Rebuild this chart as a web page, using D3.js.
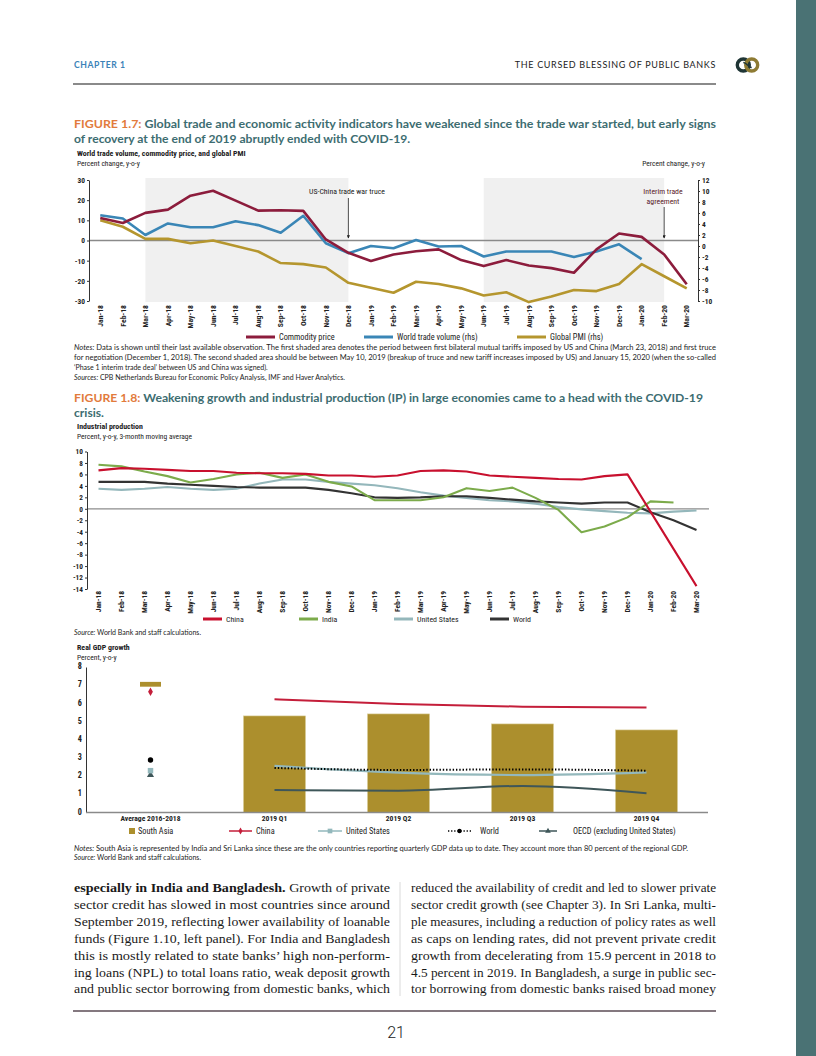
<!DOCTYPE html>
<html><head><meta charset="utf-8">
<script src="https://cdn.jsdelivr.net/npm/d3@7"></script>
<style>
body{margin:0;background:#fff}
svg{display:block}
</style></head><body>
<svg id="page" width="816" height="1056"></svg>
<script>
// ---------------- DATA ----------------
const months = ["Jan-18","Feb-18","Mar-18","Apr-18","May-18","Jun-18","Jul-18","Aug-18","Sep-18","Oct-18","Nov-18","Dec-18",
  "Jan-19","Feb-19","Mar-19","Apr-19","May-19","Jun-19","Jul-19","Aug-19","Sep-19","Oct-19","Nov-19","Dec-19","Jan-20","Feb-20","Mar-20"];
const commodityPrice = [11.2,8.7,13.7,15.3,22.2,24.7,19.8,14.8,15.0,14.7,0.5,-6.1,-10.2,-6.9,-5.3,-4.4,-9.7,-12.7,-9.7,-12.4,-13.7,-16.0,-4.4,3.5,1.8,-6.9,-21.7];
const worldTradeVolume = [5.6,5.0,2.0,4.1,3.4,3.4,4.5,3.8,2.4,5.5,0.5,-1.3,0.0,-0.4,1.1,-0.1,0.0,-1.9,-1.0,-1.0,-1.0,-2.0,-1.0,0.3,-2.4,null,null];
const globalPMI = [4.7,3.5,1.3,1.3,0.5,1.0,0.0,-1.0,-3.1,-3.3,-3.9,-6.7,-7.6,-8.5,-6.5,-6.9,-7.7,-9.0,-8.4,-10.2,-9.2,-8.0,-8.2,-6.9,-3.3,-5.5,-7.7];
const leftTicks1 = [-30,-20,-10,0,10,20,30];
const rightTicks1 = [-10,-8,-6,-4,-2,0,2,4,6,8,10,12];
const shadeStart = ["Mar-18","Jun-19"];
const shadeEnd = ["Dec-18","Feb-20"];

const ipChina = [6.7,7.1,7.0,6.8,6.6,6.6,6.3,6.2,6.2,6.1,5.8,5.8,5.6,5.8,6.6,6.7,6.5,5.8,5.6,5.4,5.2,5.1,5.7,6.0,-0.5,-7.0,-13.5];
const ipIndia = [7.7,7.4,6.5,5.7,4.6,5.2,6.0,6.3,5.4,6.0,4.7,3.9,1.5,1.5,1.5,2.0,3.6,3.1,3.7,1.9,-0.2,-4.1,-3.1,-1.5,1.3,1.1,null];
const ipUS = [3.5,3.3,3.5,3.8,3.5,3.3,3.5,4.4,5.1,5.1,4.7,4.4,4.1,3.6,2.9,2.3,1.9,1.5,1.3,0.9,0.3,-0.1,-0.4,-0.7,-0.8,-0.5,-0.3];
const ipWorld = [4.7,4.7,4.7,4.4,4.2,4.0,3.8,3.7,3.7,3.7,3.3,2.7,2.0,1.9,2.0,2.2,2.2,1.9,1.6,1.3,1.1,0.9,1.1,1.1,-0.6,-2.0,-3.7];
const ipTicks = [-14,-12,-10,-8,-6,-4,-2,0,2,4,6,8,10];

const gdpCategories = ["Average 2016-2018","2019 Q1","2019 Q2","2019 Q3","2019 Q4"];
const gdpSouthAsia = [7.05,5.31,5.42,4.87,4.54];
const gdpChina = [6.64,6.22,5.96,5.82,5.78];
const gdpUS = [2.30,2.56,2.19,2.06,2.21];
const gdpWorld = [2.89,2.45,2.34,2.37,2.30];
const gdpOECD = [2.06,1.24,1.20,1.46,1.06];
const gdpTicks = [0,1,2,3,4,5,6,7,8];

// ---------------- STYLE ----------------
const COND = '"Roboto Condensed","DejaVu Sans Condensed",sans-serif';
const SANS = 'Lato,"Open Sans",sans-serif';
const SERIF = '"Liberation Serif","DejaVu Serif",serif';
const C = {commodity:"#8c1c3c", trade:"#3a86b6", pmi:"#b5962e",
  china:"#c8102e", india:"#7cab4b", us:"#94b7bb", world:"#333333",
  gdpBar:"#ac8f2d", gdpChina:"#c41e3a", gdpUS:"#93b8bc", gdpOECD:"#3e5659",
  title:"#3d6d71", fig:"#e27b3c"};
const fmt = d => String(d);

const svg = d3.select("#page");

// ---------------- PAGE FURNITURE ----------------
svg.append("rect").attr("x",796).attr("y",0).attr("width",20).attr("height",1056).attr("fill","#4a7274");
svg.append("text").attr("x",74).attr("y",67.5).text("CHAPTER 1")
  .attr("font-family",SANS).attr("font-weight",700).attr("font-size",8.6).attr("letter-spacing",0.6).attr("fill","#3b82b8");
svg.append("text").attr("x",716).attr("y",67.5).attr("text-anchor","end").text("THE CURSED BLESSING OF PUBLIC BANKS")
  .attr("font-family",SANS).attr("font-size",9).attr("letter-spacing",0.66).attr("fill","#222");
svg.append("line").attr("x1",73).attr("x2",716).attr("y1",84).attr("y2",84).attr("stroke","#8a8a8a").attr("stroke-width",2);
// logo
const logo = svg.append("g").attr("transform","translate(747.5,65)");
logo.append("circle").attr("cx",-4.2).attr("r",6).attr("fill","none").attr("stroke","#1f3535").attr("stroke-width",3.4);
logo.append("circle").attr("cx",4.2).attr("r",6).attr("fill","none").attr("stroke","#8e7b33").attr("stroke-width",3.4);
logo.append("path").attr("d","M-4.2,-2.5 C-1,-2.5 1,2.5 4.2,2.5").attr("fill","none").attr("stroke","#1f3535").attr("stroke-width",1.6);

// figure titles
function figTitle(y, label, rest, len){
  const t = svg.append("text").attr("x",74).attr("y",y).attr("font-family",SANS).attr("font-weight",700).attr("font-size",12.1);
  if(len) t.attr("textLength",len).attr("lengthAdjust","spacingAndGlyphs");
  if(label) t.append("tspan").attr("fill",C.fig).text(label);
  t.append("tspan").attr("fill",C.title).text(rest);
}
figTitle(128,"FIGURE 1.7:"," Global trade and economic activity indicators have weakened since the trade war started, but early signs",642);
figTitle(143,null,"of recovery at the end of 2019 abruptly ended with COVID-19.");
figTitle(402,"FIGURE 1.8:"," Weakening growth and industrial production (IP) in large economies came to a head with the COVID-19",629);
figTitle(417,null,"crisis.");

function ctext(x,y,txt,opts={}){
  return svg.append("text").attr("x",x).attr("y",y).text(txt)
    .attr("font-family",COND).attr("font-size",opts.size||7.5).attr("font-weight",opts.bold?700:400)
    .attr("fill",opts.fill||"#222").attr("text-anchor",opts.anchor||"start");
}
function styleAxis(g,size,bold=true){
  g.selectAll("text").attr("font-family",COND).attr("font-size",size).attr("font-weight",bold?700:400).attr("fill","#222");
  g.selectAll("path.domain").attr("stroke","#333");
  g.selectAll(".tick line").attr("stroke","#333");
}
function monthAxis(g,x,y,size){
  const a = g.append("g").attr("transform",`translate(0,${y})`).call(d3.axisBottom(x).tickSize(0));
  a.select("path.domain").remove();
  a.selectAll("text").attr("x",-3).attr("y",0).attr("dy","0.35em").attr("transform","rotate(-90)").style("text-anchor","end");
  styleAxis(a,size);
  return a;
}

// ---------------- FIGURE 1.7 ----------------
ctext(77,156,"World trade volume, commodity price, and global PMI",{bold:true,size:7.9});
ctext(77,165.5,"Percent change, y-o-y",{size:7.5});
ctext(705,165.5,"Percent change, y-o-y",{size:7.5,anchor:"end"});

const x1 = d3.scaleBand().domain(months).range([89,698]);
const cx1 = m => x1(m)+x1.bandwidth()/2;
const yL1 = d3.scaleLinear().domain([-30,30]).range([301,180]);
const yR1 = d3.scaleLinear().domain([-10,12]).range([301,180]);
const g1 = svg.append("g");
shadeStart.forEach((s,i)=>{
  g1.append("rect").attr("x",cx1(s)).attr("width",cx1(shadeEnd[i])-cx1(s)).attr("y",178).attr("height",124).attr("fill","#f0f0f0");
});
g1.append("line").attr("x1",89).attr("x2",698).attr("y1",yL1(0)).attr("y2",yL1(0)).attr("stroke","#8a8a8a").attr("stroke-width",1.6);

const axL1 = g1.append("g").attr("transform","translate(89,0)")
  .call(d3.axisLeft(yL1).tickValues(leftTicks1).tickFormat(fmt).tickSize(2).tickSizeOuter(0).tickPadding(2));
styleAxis(axL1,7.4);
const axR1 = g1.append("g").attr("transform","translate(698,0)")
  .call(d3.axisRight(yR1).tickValues(rightTicks1).tickFormat(fmt).tickSize(2).tickSizeOuter(0).tickPadding(2));
styleAxis(axR1,7.4);
monthAxis(g1,x1,302,7.7);

const line1L = d3.line().defined(d=>d!=null).x((d,i)=>cx1(months[i])).y(d=>yL1(d));
const line1R = d3.line().defined(d=>d!=null).x((d,i)=>cx1(months[i])).y(d=>yR1(d));
g1.append("path").attr("d",line1R(globalPMI)).attr("fill","none").attr("stroke",C.pmi).attr("stroke-width",2.6).attr("stroke-linejoin","round");
g1.append("path").attr("d",line1R(worldTradeVolume)).attr("fill","none").attr("stroke",C.trade).attr("stroke-width",2.6).attr("stroke-linejoin","round");
g1.append("path").attr("d",line1L(commodityPrice)).attr("fill","none").attr("stroke",C.commodity).attr("stroke-width",2.6).attr("stroke-linejoin","round");

// annotations
svg.append("defs").append("marker").attr("id","arr").attr("viewBox","0 0 6 6").attr("refX",5).attr("refY",3)
  .attr("markerWidth",4).attr("markerHeight",4).attr("orient","auto")
  .append("path").attr("d","M0,0 L6,3 L0,6 z").attr("fill","#222");
ctext(347,194,"US-China trade war truce",{size:7.8,anchor:"middle"});
g1.append("line").attr("x1",cx1("Dec-18")).attr("x2",cx1("Dec-18")).attr("y1",198).attr("y2",238).attr("stroke","#222").attr("stroke-width",0.8).attr("marker-end","url(#arr)");
ctext(663,194,"Interim trade",{size:7.8,anchor:"middle",fill:"#5a1a28"});
ctext(663,204,"agreement",{size:7.8,anchor:"middle",fill:"#5a1a28"});
g1.append("line").attr("x1",cx1("Feb-20")).attr("x2",cx1("Feb-20")).attr("y1",207).attr("y2",238).attr("stroke","#222").attr("stroke-width",0.8).attr("marker-end","url(#arr)");

// legend 1.7
[["Commodity price",C.commodity,246],["World trade volume (rhs)",C.trade,364],["Global PMI (rhs)",C.pmi,517]].forEach(([t,c,x])=>{
  svg.append("line").attr("x1",x).attr("x2",x+29).attr("y1",337).attr("y2",337).attr("stroke",c).attr("stroke-width",3);
  ctext(x+33,340,t,{size:8.3});
});
// notes
function note(y,parts,len){
  const t = svg.append("text").attr("x",74).attr("y",y).attr("font-family",SANS).attr("font-size",7).attr("fill","#222");
  if(len) t.attr("textLength",len).attr("lengthAdjust","spacingAndGlyphs");
  parts.forEach(p=>{ const s=t.append("tspan").text(p[0]); if(p[1]) s.attr("font-style","italic"); });
}
note(350,[["Notes:",1],[" Data is shown until their last available observation. The first shaded area denotes the period between first bilateral mutual tariffs imposed by US and China (March 23, 2018) and first truce"]],642);
note(360,[["for negotiation (December 1, 2018). The second shaded area should be between May 10, 2019 (breakup of truce and new tariff increases imposed by US) and January 15, 2020 (when the so-called"]],642);
note(370,[["\u2018Phase 1 interim trade deal\u2019 between US and China was signed)."]]);
note(380,[["Sources:",1],[" CPB Netherlands Bureau for Economic Policy Analysis, IMF and Haver Analytics."]]);

// ---------------- FIGURE 1.8 IP ----------------
ctext(77,428.5,"Industrial production",{bold:true,size:7.9});
ctext(77,439,"Percent, y-o-y, 3-month moving average",{size:7.5});
const x2 = d3.scaleBand().domain(months).range([87,708]);
const cx2 = m => x2(m)+x2.bandwidth()/2;
const y2 = d3.scaleLinear().domain([-14,10]).range([589,451.5]);
const g2 = svg.append("g");
g2.append("line").attr("x1",87).attr("x2",709).attr("y1",y2(0)).attr("y2",y2(0)).attr("stroke","#8c8c8c").attr("stroke-width",1.3);
const axL2 = g2.append("g").attr("transform","translate(87,0)")
  .call(d3.axisLeft(y2).tickValues(ipTicks).tickFormat(fmt).tickSize(2).tickSizeOuter(0).tickPadding(2));
styleAxis(axL2,7.3);
monthAxis(g2,x2,588,7.5);
const line2 = d3.line().defined(d=>d!=null).x((d,i)=>cx2(months[i])).y(d=>y2(d));
[[ipUS,C.us],[ipWorld,C.world],[ipIndia,C.india],[ipChina,C.china]].forEach(([d,c])=>{
  g2.append("path").attr("d",line2(d)).attr("fill","none").attr("stroke",c).attr("stroke-width",2.1).attr("stroke-linejoin","round");
});
[["China",C.china,203],["India",C.india,299],["United States",C.us,394],["World",C.world,490]].forEach(([t,c,x])=>{
  svg.append("line").attr("x1",x).attr("x2",x+19).attr("y1",619).attr("y2",619).attr("stroke",c).attr("stroke-width",3);
  ctext(x+23,622,t,{size:7.9});
});
note(635,[["Source:",1],[" World Bank and staff calculations."]]);

// ---------------- GDP ----------------
ctext(77,649.5,"Real GDP growth",{bold:true,size:7.9});
ctext(77,660,"Percent, y-o-y",{size:7.5});
const x3 = d3.scaleBand().domain(gdpCategories).range([88.5,708.5]).paddingInner(0.5).paddingOuter(0.25);
const cx3 = c => x3(c)+x3.bandwidth()/2;
const y3 = d3.scaleLinear().domain([0,8]).range([812.5,667]);
const g3 = svg.append("g");
gdpCategories.forEach((c,i)=>{
  if(i===0){
    g3.append("rect").attr("x",cx3(c)-10.5).attr("width",21).attr("y",y3(gdpSouthAsia[i])-2.4).attr("height",4.8).attr("fill",C.gdpBar);
  } else {
    g3.append("rect").attr("x",x3(c)).attr("width",x3.bandwidth()).attr("y",y3(gdpSouthAsia[i])).attr("height",y3(0)-y3(gdpSouthAsia[i]))
      .attr("fill",C.gdpBar).attr("stroke","#d9cc98").attr("stroke-width",0.6);
  }
});
const axL3 = g3.append("g").attr("transform","translate(86,0)")
  .call(d3.axisLeft(y3).tickValues(gdpTicks).tickFormat(fmt).tickSize(0).tickSizeOuter(0).tickPadding(4));
styleAxis(axL3,8.2);
axL3.selectAll("text").attr("dy","0.2em");
g3.append("line").attr("x1",86).attr("x2",708).attr("y1",y3(0)).attr("y2",y3(0)).attr("stroke","#8a8a8a").attr("stroke-width",1.6);
const axB3 = g3.append("g").attr("transform",`translate(0,${y3(0)})`).call(d3.axisBottom(x3).tickSize(0).tickPadding(3));
axB3.select("path.domain").remove();
styleAxis(axB3,7.6);

const q = gdpCategories.slice(1);
const line3 = d3.line().x((d,i)=>cx3(q[i])).y(d=>y3(d)).curve(d3.curveMonotoneX);
g3.append("path").attr("d",line3(gdpOECD.slice(1))).attr("fill","none").attr("stroke",C.gdpOECD).attr("stroke-width",2);
g3.append("path").attr("d",line3(gdpUS.slice(1))).attr("fill","none").attr("stroke",C.gdpUS).attr("stroke-width",2.2);
g3.append("path").attr("d",line3(gdpWorld.slice(1))).attr("fill","none").attr("stroke","#000").attr("stroke-width",2)
  .attr("stroke-dasharray","1.4,1.9");
g3.append("path").attr("d",line3(gdpChina.slice(1))).attr("fill","none").attr("stroke",C.gdpChina).attr("stroke-width",2);

const a0 = cx3(gdpCategories[0]);
const sym = (type,size)=>d3.symbol().type(type).size(size)();
g3.append("path").attr("d",sym(d3.symbolTriangle,22)).attr("transform",`translate(${a0},${y3(gdpOECD[0])})`).attr("fill",C.gdpOECD);
g3.append("path").attr("d",sym(d3.symbolSquare,30)).attr("transform",`translate(${a0},${y3(gdpUS[0])})`).attr("fill",C.gdpUS);
g3.append("circle").attr("cx",a0).attr("cy",y3(gdpWorld[0])).attr("r",2.7).attr("fill","#000");
g3.append("path").attr("d",sym(d3.symbolDiamond,20)).attr("transform",`translate(${a0},${y3(gdpChina[0])})`).attr("fill",C.gdpChina);

// legend GDP
const ly = 831;
svg.append("rect").attr("x",129).attr("y",ly-3).attr("width",6).attr("height",6).attr("fill",C.gdpBar);
ctext(138,ly+3,"South Asia",{size:8.3});
svg.append("line").attr("x1",229).attr("x2",252).attr("y1",ly).attr("y2",ly).attr("stroke",C.gdpChina).attr("stroke-width",1.5);
svg.append("path").attr("d",sym(d3.symbolDiamond,14)).attr("transform",`translate(240.5,${ly})`).attr("fill",C.gdpChina);
ctext(256,ly+3,"China",{size:8.3});
svg.append("line").attr("x1",318).attr("x2",342).attr("y1",ly).attr("y2",ly).attr("stroke",C.gdpUS).attr("stroke-width",1.5);
svg.append("path").attr("d",sym(d3.symbolSquare,22)).attr("transform",`translate(330,${ly})`).attr("fill",C.gdpUS);
ctext(346,ly+3,"United States",{size:8.3});
svg.append("line").attr("x1",448).attr("x2",471).attr("y1",ly).attr("y2",ly).attr("stroke","#000").attr("stroke-width",1.5).attr("stroke-dasharray","1.3,1.8");
svg.append("circle").attr("cx",459.5).attr("cy",ly).attr("r",2.2).attr("fill","#000");
ctext(480,ly+3,"World",{size:8.3});
svg.append("line").attr("x1",539).attr("x2",557).attr("y1",ly).attr("y2",ly).attr("stroke",C.gdpOECD).attr("stroke-width",1.5);
svg.append("path").attr("d",sym(d3.symbolTriangle,14)).attr("transform",`translate(548,${ly})`).attr("fill",C.gdpOECD);
ctext(573,ly+3,"OECD (excluding United States)",{size:8.3});

note(851,[["Notes:",1],[" South Asia is represented by India and Sri Lanka since these are the only countries reporting quarterly GDP data up to date. They account more than 80 percent of the regional GDP."]],614);
note(860,[["Source:",1],[" World Bank and staff calculations."]]);

// ---------------- BODY TEXT ----------------
const leftCol = [
  [["especially in India and Bangladesh.",1],[" Growth of private"]],
  [["sector credit has slowed in most countries since around"]],
  [["September 2019, reflecting lower availability of loanable"]],
  [["funds (Figure 1.10, left panel). For India and Bangladesh"]],
  [["this is mostly related to state banks\u2019 high non-perform-"]],
  [["ing loans (NPL) to total loans ratio, weak deposit growth"]],
  [["and public sector borrowing from domestic banks, which"]]
];
const rightCol = [
  "reduced the availability of credit and led to slower private",
  "sector credit growth (see Chapter 3). In Sri Lanka, multi-",
  "ple measures, including a reduction of policy rates as well",
  "as caps on lending rates, did not prevent private credit",
  "growth from decelerating from 15.9 percent in 2018 to",
  "4.5 percent in 2019. In Bangladesh, a surge in public sec-",
  "tor borrowing from domestic banks raised broad money"
];
leftCol.forEach((parts,i)=>{
  const t = svg.append("text").attr("x",74).attr("y",892+i*16.9).attr("font-family",SERIF).attr("font-size",12.6).attr("fill","#1a1a1a")
    .attr("textLength",316).attr("lengthAdjust","spacingAndGlyphs");
  parts.forEach(p=>{ const s=t.append("tspan").text(p[0]); if(p[1]) s.attr("font-weight",700); });
});
rightCol.forEach((s,i)=>{
  svg.append("text").attr("x",411).attr("y",892+i*16.9).attr("font-family",SERIF).attr("font-size",12.6).attr("fill","#1a1a1a")
    .attr("textLength",305).attr("lengthAdjust","spacingAndGlyphs").text(s);
});
svg.append("line").attr("x1",400).attr("x2",400).attr("y1",882).attr("y2",996).attr("stroke","#d0d0d0").attr("stroke-width",0.8);
svg.append("line").attr("x1",73).attr("x2",716).attr("y1",1011).attr("y2",1011).attr("stroke","#5b4b55").attr("stroke-width",1.3);
svg.append("text").attr("x",396).attr("y",1038).attr("text-anchor","middle").text("21")
  .attr("font-family","Roboto,sans-serif").attr("font-weight",300).attr("font-size",16).attr("fill","#222");
</script>
</body></html>
